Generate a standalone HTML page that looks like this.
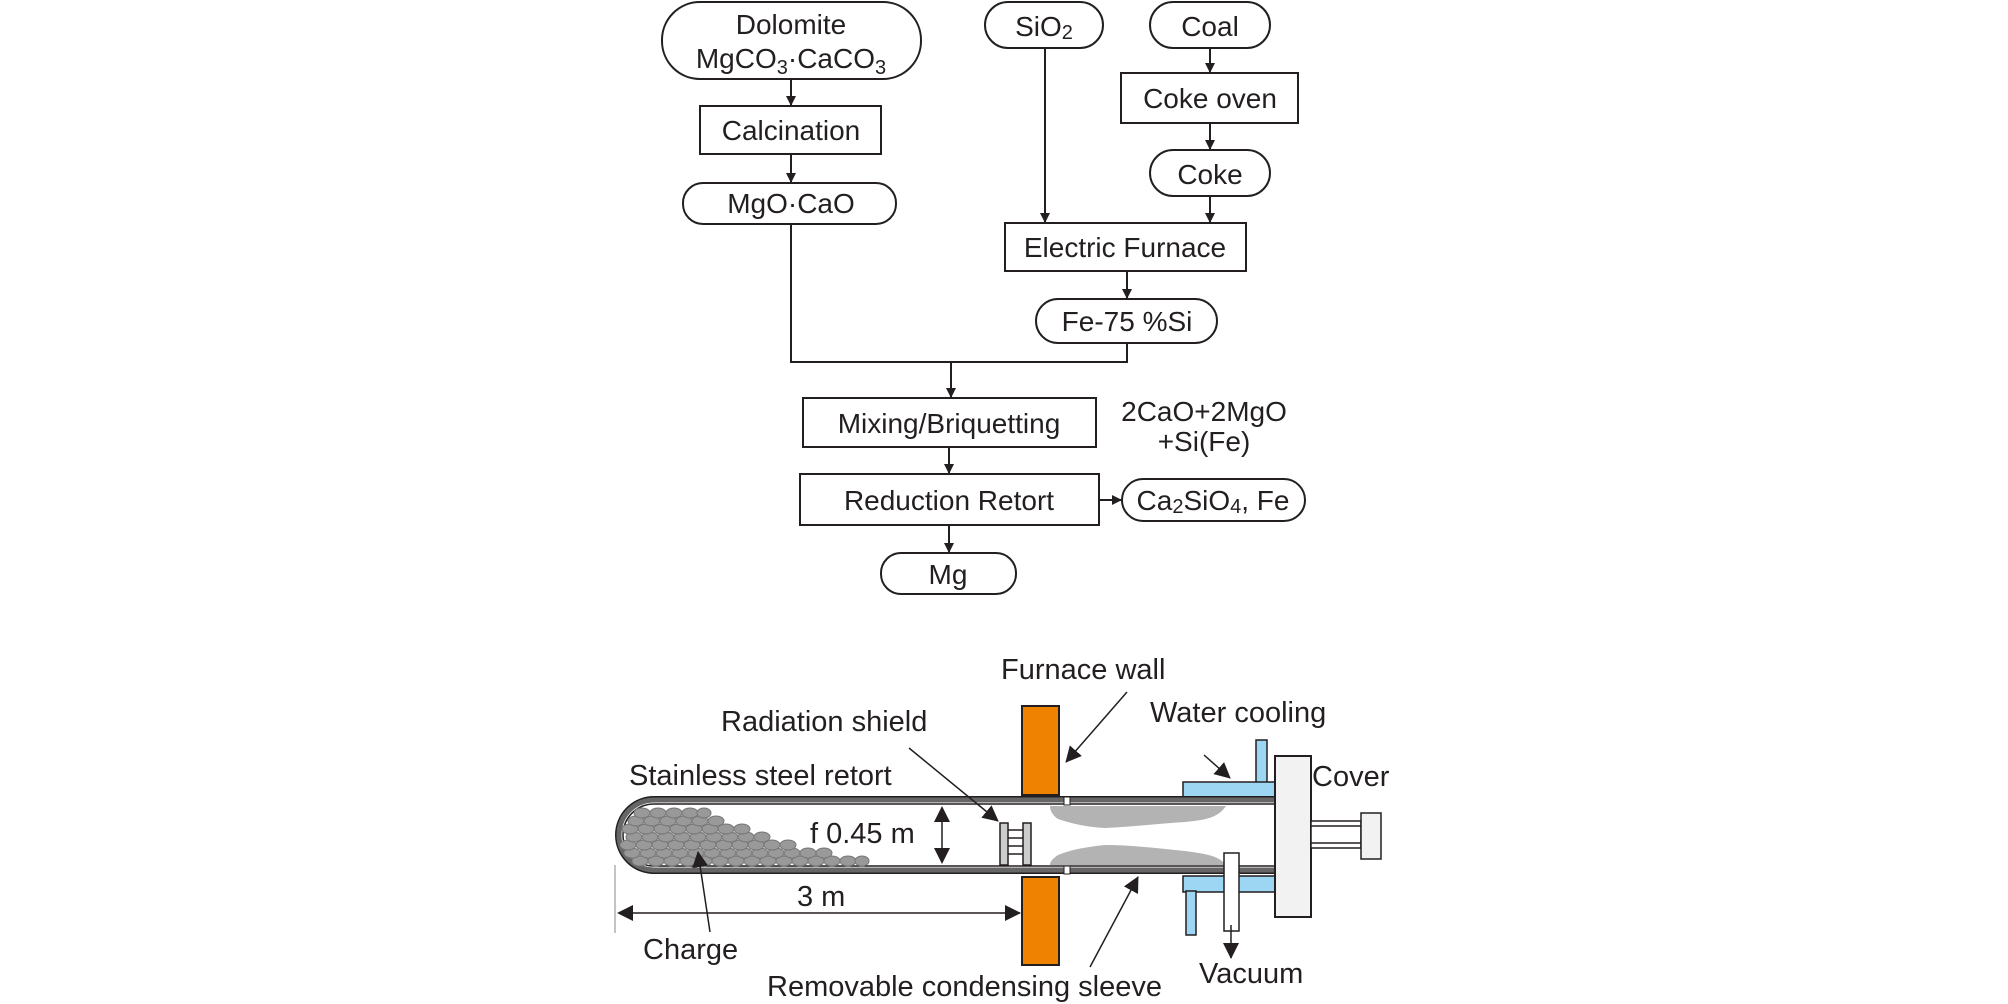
<!DOCTYPE html>
<html><head><meta charset="utf-8"><style>
html,body{margin:0;padding:0;background:#fff}
svg{display:block}
text{font-family:"Liberation Sans",Arial,sans-serif;fill:#231f20}
</style></head><body>
<svg width="2008" height="1004" viewBox="0 0 2008 1004" xmlns="http://www.w3.org/2000/svg">
<defs>
<marker id="ah" markerWidth="10" markerHeight="10" refX="9" refY="5" orient="auto" markerUnits="userSpaceOnUse"><path d="M0,0 L10,5 L0,10 z" fill="#231f20"/></marker>
<marker id="ab" markerWidth="16" markerHeight="16" refX="15" refY="8" orient="auto" markerUnits="userSpaceOnUse"><path d="M0,0 L16,8 L0,16 z" fill="#231f20"/></marker>
</defs>
<g stroke="#231f20" stroke-width="2" fill="#fff">
<rect x="662" y="2" width="259" height="77" rx="38"/>
<rect x="700" y="106" width="181" height="48"/>
<rect x="683" y="183" width="213" height="41" rx="20"/>
<rect x="985" y="2" width="118" height="46" rx="23"/>
<rect x="1150" y="2" width="120" height="46" rx="23"/>
<rect x="1121" y="73" width="177" height="50"/>
<rect x="1150" y="150" width="120" height="46" rx="23"/>
<rect x="1005" y="223" width="241" height="48"/>
<rect x="1036" y="299" width="181" height="44" rx="22"/>
<rect x="803" y="398" width="293" height="49"/>
<rect x="800" y="474" width="299" height="51"/>
<rect x="1122" y="479" width="183" height="42" rx="21"/>
<rect x="881" y="553" width="135" height="41" rx="20"/>
</g>
<g stroke="#231f20" stroke-width="2" fill="none" marker-end="url(#ah)">
<line x1="791" y1="79" x2="791" y2="105"/>
<line x1="791" y1="154" x2="791" y2="182"/>
<line x1="1045" y1="48" x2="1045" y2="222"/>
<line x1="1210" y1="48" x2="1210" y2="72"/>
<line x1="1210" y1="123" x2="1210" y2="149"/>
<line x1="1210" y1="196" x2="1210" y2="222"/>
<line x1="1127" y1="271" x2="1127" y2="298"/>
<line x1="951" y1="362" x2="951" y2="397"/>
<line x1="949" y1="447" x2="949" y2="473"/>
<line x1="949" y1="525" x2="949" y2="552"/>
<line x1="1099" y1="500" x2="1121" y2="500"/>
</g>
<polyline points="791,224 791,362 1127,362 1127,343" stroke="#231f20" stroke-width="2" fill="none"/>
<g font-size="28" text-anchor="middle">
<text x="791" y="34">Dolomite</text>
<text x="791" y="68">MgCO<tspan font-size="20" dy="6">3</tspan><tspan dy="-6">·CaCO</tspan><tspan font-size="20" dy="6">3</tspan></text>
<text x="791" y="140">Calcination</text>
<text x="791" y="213">MgO·CaO</text>
<text x="1044" y="36">SiO<tspan font-size="20" dy="3">2</tspan></text>
<text x="1210" y="36">Coal</text>
<text x="1210" y="108">Coke oven</text>
<text x="1210" y="184">Coke</text>
<text x="1125" y="257">Electric Furnace</text>
<text x="1127" y="331">Fe-75 %Si</text>
<text x="949" y="433">Mixing/Briquetting</text>
<text x="949" y="510">Reduction Retort</text>
<text x="1213" y="510">Ca<tspan font-size="20" dy="3">2</tspan><tspan dy="-3">SiO</tspan><tspan font-size="20" dy="3">4</tspan><tspan dy="-3">, Fe</tspan></text>
<text x="948" y="584">Mg</text>
<text x="1204" y="421">2CaO+2MgO</text>
<text x="1204" y="451">+Si(Fe)</text>
</g>

<rect x="1022" y="706" width="37" height="89" fill="#ef8200" stroke="#231f20" stroke-width="2"/>
<rect x="1022" y="877" width="37" height="88" fill="#ef8200" stroke="#231f20" stroke-width="2"/>
<g fill="#9dd6f3" stroke="#231f20" stroke-width="1.5">
<rect x="1256" y="740" width="11" height="44"/>
<rect x="1183" y="782" width="92" height="16"/>
<rect x="1183" y="876" width="92" height="16"/>
<rect x="1186" y="891" width="10" height="44"/>
</g>
<path d="M1275,797 L654,797 A38,38 0 0 0 654,873 L1275,873" fill="#fff" stroke="#231f20" stroke-width="2"/>
<path d="M1275,800 L654,800 A35,35 0 0 0 654,870 L1275,870" fill="none" stroke="#666" stroke-width="5"/>
<path d="M1275,804 L654,804 A31,31 0 0 0 654,866 L1275,866" fill="#fff" stroke="#231f20" stroke-width="1.5"/>
<rect x="1064" y="797" width="6" height="8" fill="#fff" stroke="#231f20" stroke-width="1"/>
<rect x="1064" y="866" width="6" height="8" fill="#fff" stroke="#231f20" stroke-width="1"/>
<path d="M1050,806 L1226,806 C1218,818 1205,820 1185,822 C1155,824 1130,827 1105,828 C1085,827 1070,823 1058,819 C1052,815 1050,810 1050,806 z" fill="#b3b3b3"/>
<path d="M1050,865 L1226,865 C1218,855 1205,854 1185,851 C1155,848 1130,845 1105,845 C1085,847 1070,850 1058,855 C1052,859 1050,862 1050,865 z" fill="#b3b3b3"/>
<rect x="1275" y="756" width="36" height="161" fill="#f2f2f2" stroke="#231f20" stroke-width="2"/>
<rect x="1311" y="821" width="50" height="27" fill="#fff" stroke="#231f20" stroke-width="1.5"/>
<line x1="1311" y1="826" x2="1361" y2="826" stroke="#231f20" stroke-width="1.5"/>
<line x1="1311" y1="843" x2="1361" y2="843" stroke="#231f20" stroke-width="1.5"/>
<rect x="1361" y="813" width="20" height="46" fill="#f2f2f2" stroke="#231f20" stroke-width="1.5"/>
<rect x="1224" y="853" width="15" height="78" fill="#fff" stroke="#231f20" stroke-width="1.5"/>
<line x1="1231" y1="925" x2="1231" y2="958" stroke="#231f20" stroke-width="1.5" marker-end="url(#ab)"/>
<g stroke="#231f20" stroke-width="1.5">
<rect x="1000" y="823" width="8" height="42" fill="#ccc"/>
<rect x="1023" y="823" width="8" height="42" fill="#ccc"/>
<line x1="1008" y1="830" x2="1023" y2="830"/><line x1="1008" y1="838" x2="1023" y2="838"/><line x1="1008" y1="846" x2="1023" y2="846"/><line x1="1008" y1="854" x2="1023" y2="854"/>
</g>
<g fill="#999" stroke="#777" stroke-width="1">
<ellipse cx="640" cy="861" rx="8" ry="5"/><ellipse cx="656" cy="861" rx="8" ry="5"/><ellipse cx="672" cy="861" rx="8" ry="5"/><ellipse cx="688" cy="861" rx="8" ry="5"/><ellipse cx="704" cy="861" rx="8" ry="5"/><ellipse cx="720" cy="861" rx="8" ry="5"/><ellipse cx="736" cy="861" rx="8" ry="5"/><ellipse cx="752" cy="861" rx="8" ry="5"/><ellipse cx="768" cy="861" rx="8" ry="5"/><ellipse cx="784" cy="861" rx="8" ry="5"/><ellipse cx="800" cy="861" rx="8" ry="5"/><ellipse cx="816" cy="861" rx="8" ry="5"/><ellipse cx="832" cy="861" rx="8" ry="5"/><ellipse cx="848" cy="861" rx="8" ry="5"/><ellipse cx="862" cy="861" rx="7" ry="5"/>
<ellipse cx="632" cy="853" rx="8" ry="5"/><ellipse cx="648" cy="853" rx="8" ry="5"/><ellipse cx="664" cy="853" rx="8" ry="5"/><ellipse cx="680" cy="853" rx="8" ry="5"/><ellipse cx="696" cy="853" rx="8" ry="5"/><ellipse cx="712" cy="853" rx="8" ry="5"/><ellipse cx="728" cy="853" rx="8" ry="5"/><ellipse cx="744" cy="853" rx="8" ry="5"/><ellipse cx="760" cy="853" rx="8" ry="5"/><ellipse cx="776" cy="853" rx="8" ry="5"/><ellipse cx="792" cy="853" rx="8" ry="5"/><ellipse cx="808" cy="853" rx="8" ry="5"/><ellipse cx="824" cy="853" rx="8" ry="5"/>
<ellipse cx="628" cy="845" rx="8" ry="5"/><ellipse cx="644" cy="845" rx="8" ry="5"/><ellipse cx="660" cy="845" rx="8" ry="5"/><ellipse cx="676" cy="845" rx="8" ry="5"/><ellipse cx="692" cy="845" rx="8" ry="5"/><ellipse cx="708" cy="845" rx="8" ry="5"/><ellipse cx="724" cy="845" rx="8" ry="5"/><ellipse cx="740" cy="845" rx="8" ry="5"/><ellipse cx="756" cy="845" rx="8" ry="5"/><ellipse cx="772" cy="845" rx="8" ry="5"/><ellipse cx="788" cy="845" rx="8" ry="5"/>
<ellipse cx="634" cy="837" rx="8" ry="5"/><ellipse cx="650" cy="837" rx="8" ry="5"/><ellipse cx="666" cy="837" rx="8" ry="5"/><ellipse cx="682" cy="837" rx="8" ry="5"/><ellipse cx="698" cy="837" rx="8" ry="5"/><ellipse cx="714" cy="837" rx="8" ry="5"/><ellipse cx="730" cy="837" rx="8" ry="5"/><ellipse cx="746" cy="837" rx="8" ry="5"/><ellipse cx="762" cy="837" rx="8" ry="5"/>
<ellipse cx="630" cy="829" rx="8" ry="5"/><ellipse cx="646" cy="829" rx="8" ry="5"/><ellipse cx="662" cy="829" rx="8" ry="5"/><ellipse cx="678" cy="829" rx="8" ry="5"/><ellipse cx="694" cy="829" rx="8" ry="5"/><ellipse cx="710" cy="829" rx="8" ry="5"/><ellipse cx="726" cy="829" rx="8" ry="5"/><ellipse cx="742" cy="829" rx="8" ry="5"/>
<ellipse cx="636" cy="821" rx="8" ry="5"/><ellipse cx="652" cy="821" rx="8" ry="5"/><ellipse cx="668" cy="821" rx="8" ry="5"/><ellipse cx="684" cy="821" rx="8" ry="5"/><ellipse cx="700" cy="821" rx="8" ry="5"/><ellipse cx="716" cy="821" rx="8" ry="5"/>
<ellipse cx="642" cy="813" rx="8" ry="5"/><ellipse cx="658" cy="813" rx="8" ry="5"/><ellipse cx="674" cy="813" rx="8" ry="5"/><ellipse cx="690" cy="813" rx="8" ry="5"/><ellipse cx="704" cy="813" rx="7" ry="5"/>
</g>
<line x1="942" y1="815" x2="942" y2="855" stroke="#231f20" stroke-width="1.5"/>
<path d="M942,806 L934,822 L950,822 z M942,864 L934,848 L950,848 z" fill="#231f20"/>
<line x1="615" y1="865" x2="615" y2="933" stroke="#888" stroke-width="1"/>
<line x1="625" y1="913" x2="1020" y2="913" stroke="#231f20" stroke-width="1.5" marker-end="url(#ab)"/>
<path d="M617,913 L633,905 L633,921 z" fill="#231f20"/>
<g stroke="#231f20" stroke-width="1.5" marker-end="url(#ab)">
<line x1="1127" y1="692" x2="1066" y2="762"/>
<line x1="909" y1="748" x2="998" y2="821"/>
<line x1="1204" y1="755" x2="1230" y2="778"/>
<line x1="710" y1="932" x2="698" y2="852"/>
<line x1="1090" y1="967" x2="1138" y2="877"/>
</g>
<g font-size="29">
<text x="1001" y="679">Furnace wall</text>
<text x="1150" y="722">Water cooling</text>
<text x="1312" y="786">Cover</text>
<text x="721" y="731">Radiation shield</text>
<text x="629" y="785">Stainless steel retort</text>
<text x="810" y="843">f 0.45 m</text>
<text x="797" y="906">3 m</text>
<text x="643" y="959">Charge</text>
<text x="767" y="996">Removable condensing sleeve</text>
<text x="1199" y="983">Vacuum</text>
</g>
</svg>
</body></html>
